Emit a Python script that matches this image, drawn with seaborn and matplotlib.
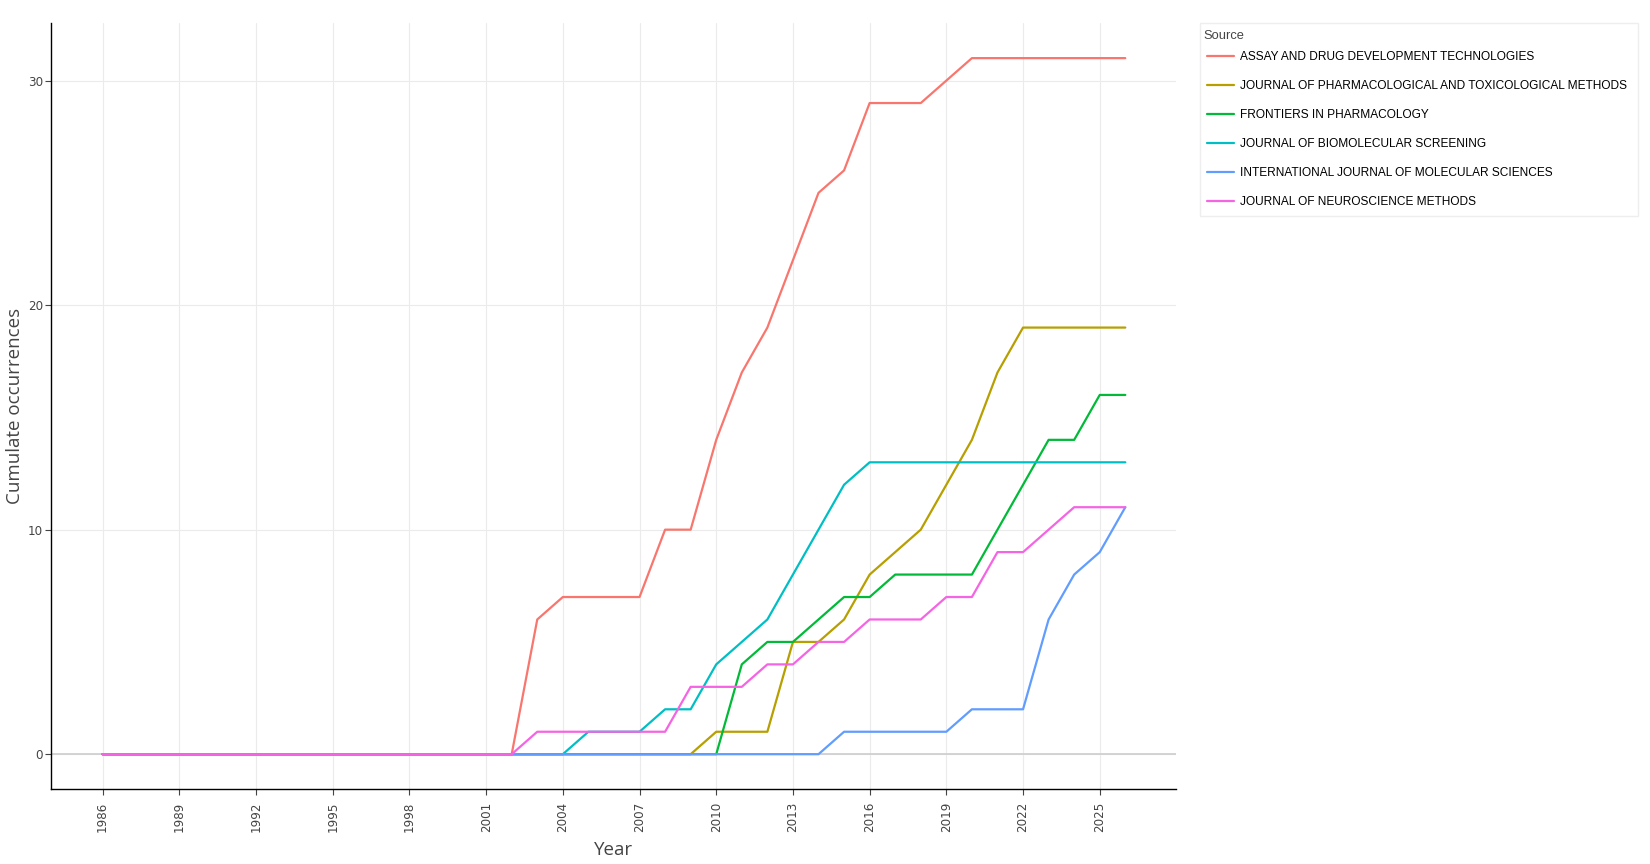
import pandas as pd
import numpy as np
import matplotlib.pyplot as plt
from matplotlib.patches import Rectangle
import seaborn as sns

sns.set_theme(style="white")
plt.rcParams['font.family'] = ['Liberation Sans', 'DejaVu Sans']

years = list(range(1986, 2027))

sources = [
    "ASSAY AND DRUG DEVELOPMENT TECHNOLOGIES",
    "JOURNAL OF PHARMACOLOGICAL AND TOXICOLOGICAL METHODS",
    "FRONTIERS IN PHARMACOLOGY",
    "JOURNAL OF BIOMOLECULAR SCREENING",
    "INTERNATIONAL JOURNAL OF MOLECULAR SCIENCES",
    "JOURNAL OF NEUROSCIENCE METHODS",
]

# cumulative counts 1986..2026 (all zero up to 2002)
zeros = [0] * 17  # 1986-2002
assay = zeros + [6, 7, 7, 7, 7, 10, 10, 14, 17, 19, 22, 25, 26, 29, 29, 29, 30, 31, 31, 31, 31, 31, 31, 31]
pharm_tox = zeros + [0, 0, 0, 0, 0, 0, 0, 1, 1, 1, 5, 5, 6, 8, 9, 10, 12, 14, 17, 19, 19, 19, 19, 19]
frontiers = zeros + [0, 0, 0, 0, 0, 0, 0, 0, 4, 5, 5, 6, 7, 7, 8, 8, 8, 8, 10, 12, 14, 14, 16, 16]
biomol = zeros + [0, 0, 1, 1, 1, 2, 2, 4, 5, 6, 8, 10, 12, 13, 13, 13, 13, 13, 13, 13, 13, 13, 13, 13]
int_mol = zeros + [0, 0, 0, 0, 0, 0, 0, 0, 0, 0, 0, 0, 1, 1, 1, 1, 1, 2, 2, 2, 6, 8, 9, 11]
neuro = zeros + [1, 1, 1, 1, 1, 1, 3, 3, 3, 4, 4, 5, 5, 6, 6, 6, 7, 7, 9, 9, 10, 11, 11, 11]

series = [assay, pharm_tox, frontiers, biomol, int_mol, neuro]
colors = ["#F8766D", "#B79F00", "#00BA38", "#00BFC4", "#619CFF", "#F564E3"]

df = pd.concat(
    [pd.DataFrame({"Year": years, "Count": vals, "Source": name}) for name, vals in zip(sources, series)],
    ignore_index=True,
)

fig = plt.figure(figsize=(16.5, 8.64), dpi=100)
ax = fig.add_axes([0.0312, 0.0868, 0.6818, 0.8862])

ax.axhline(0, color="#d0d0d0", lw=1.3, zorder=1)
sns.lineplot(data=df, x="Year", y="Count", hue="Source", hue_order=sources,
             palette=dict(zip(sources, colors)), linewidth=1.6, ax=ax, zorder=2)

ax.set_xlim(1984, 2028)
ax.set_ylim(-1.55, 32.55)
ax.set_xticks(list(range(1986, 2026, 3)))
ax.set_yticks([0, 10, 20, 30])
ax.grid(True, color="#ebebeb", lw=0.8)
ax.set_axisbelow(True)
for s in ["top", "right"]:
    ax.spines[s].set_visible(False)
for s in ["left", "bottom"]:
    ax.spines[s].set_color("black")
    ax.spines[s].set_linewidth(1.0)
ax.tick_params(axis="x", labelrotation=90, labelsize=8.6, labelcolor="#444444",
               color="#444444", length=4, width=0.8, bottom=True, pad=5)
ax.tick_params(axis="y", labelsize=8.6, labelcolor="#444444",
               color="#444444", length=4, width=0.8, left=True, pad=2)
for lab in ax.get_xticklabels() + ax.get_yticklabels():
    lab.set_family("DejaVu Sans")

ax.set_xlabel("Year", fontsize=13.5, color="#444444", family="Open Sans")
ax.set_ylabel("Cumulate occurrences", fontsize=13.5, color="#444444", family="Open Sans")
ax.xaxis.set_label_coords(0.5, -0.0675)
ax.yaxis.set_label_coords(-0.024, 0.5)

ax.get_legend().remove()
handles = [plt.Line2D([], [], color=c, lw=1.6) for c in colors]
leg = fig.legend(handles, sources, loc="upper left",
                 bbox_to_anchor=(0.7315, 0.9408), fontsize=8.6,
                 frameon=False, handlelength=2.3, handletextpad=0.5,
                 labelspacing=1.42, borderpad=0, borderaxespad=0,
                 labelcolor="black")
fig.text(1203 / 1650, 1 - 36 / 864, "Source", fontsize=9.3, color="#444444",
         ha="left", va="center")
fig.patches.append(Rectangle((1200 / 1650, 1 - 216 / 864), 438 / 1650, 193 / 864,
                             transform=fig.transFigure, fill=False,
                             edgecolor="#eeeeee", lw=1.0))

fig.savefig("out.png", dpi=100)
